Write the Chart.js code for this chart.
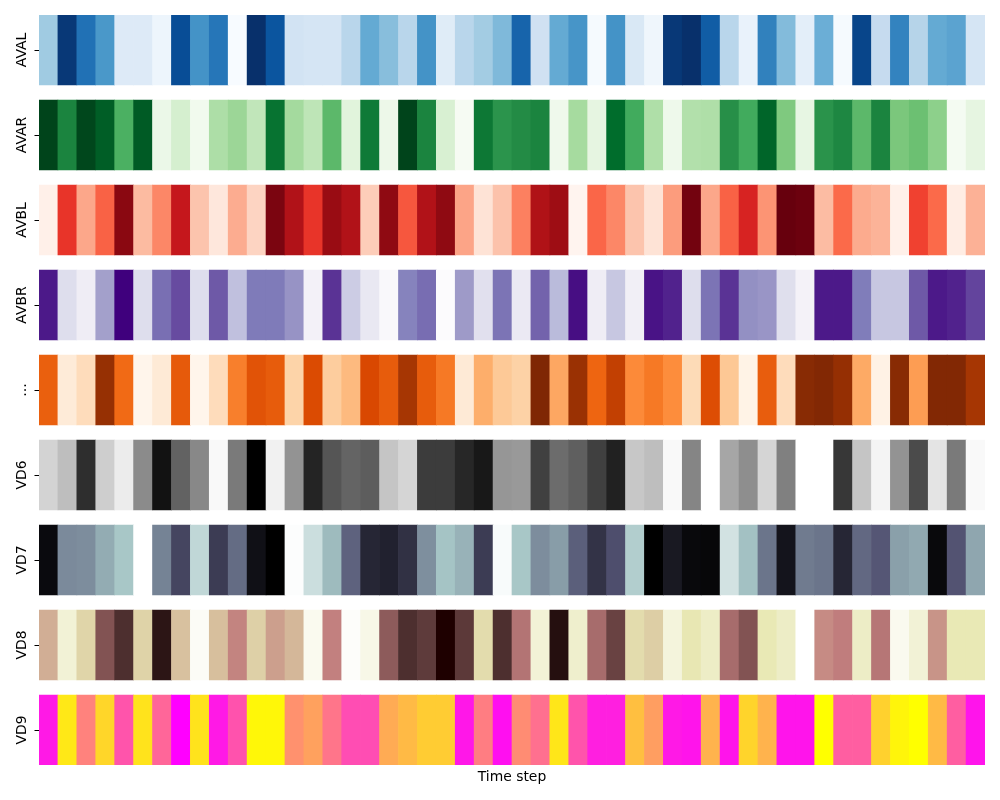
<!DOCTYPE html>
<html>
<head>
<meta charset="utf-8">
<script src="https://cdn.jsdelivr.net/npm/chart.js@4/dist/chart.umd.min.js"></script>
<style>
html,body{margin:0;padding:0;background:#fff;}
#wrap{width:1000px;height:800px;}
</style>
</head>
<body>
<div id="wrap"><canvas id="c" width="1000" height="800"></canvas></div>
<script>
// ---- data ----
const timeSteps = [0,1,2,3,4,5,6,7,8,9,10,11,12,13,14,15,16,17,18,19,20,21,22,23,24,25,26,27,28,29,30,31,32,33,34,35,36,37,38,39,40,41,42,43,44,45,46,47,48,49];
const rowNames = ['AVAL','AVAR','AVBL','AVBR','...','VD6','VD7','VD8','VD9'];
const cmapNames = ['Blues','Greens','Reds','Purples','Oranges','Greys','bone_r','pink_r','spring_r'];

const AVAL = [0.37,0.97,0.75,0.6,0.13,0.13,0.05,0.89,0.62,0.73,0.0,1.0,0.86,0.19,0.17,0.17,0.29,
  0.52,0.43,0.29,0.62,0.12,0.29,0.36,0.45,0.8,0.2,0.52,0.61,0.01,0.62,0.15,0.04,0.97,
  1.0,0.83,0.29,0.07,0.69,0.44,0.1,0.5,0.01,0.92,0.25,0.68,0.3,0.52,0.55,0.17];
const AVAR = [1.0,0.78,0.99,0.92,0.6,0.93,0.08,0.19,0.04,0.335,0.39,0.27,0.85,0.365,0.28,0.56,0.14,
  0.82,0.07,1.0,0.78,0.18,0.01,0.83,0.715,0.75,0.78,0.055,0.36,0.12,0.875,0.625,0.33,0.06,
  0.32,0.33,0.735,0.625,0.9,0.47,0.11,0.72,0.767,0.56,0.78,0.48,0.52,0.43,0.02,0.12];
const AVBL = [0.03,0.65,0.31,0.52,0.93,0.25,0.41,0.77,0.22,0.085,0.295,0.165,0.96,0.835,0.65,0.9,0.835,
  0.19,0.92,0.55,0.835,0.92,0.32,0.11,0.225,0.43,0.84,0.89,0.005,0.51,0.41,0.22,0.11,0.345,
  0.976,0.31,0.52,0.71,0.37,1.0,0.99,0.245,0.5,0.3,0.275,0.03,0.61,0.5,0.05,0.28];
const AVBR = [0.92,0.226,0.125,0.48,1.0,0.226,0.665,0.767,0.226,0.727,0.36,0.63,0.63,0.53,0.085,0.84,0.31,
  0.16,0.03,0.6,0.67,0.0,0.5,0.21,0.65,0.15,0.7,0.383,0.955,0.125,0.33,0.11,0.94,0.89,
  0.226,0.65,0.84,0.545,0.52,0.22,0.08,0.92,0.92,0.625,0.33,0.33,0.727,0.92,0.89,0.79];
const ELLIPSIS_ROW = [0.66,0.08,0.18,0.925,0.62,0.0,0.09,0.68,0.0,0.18,0.55,0.71,0.675,0.23,0.74,0.26,0.33,
  0.75,0.675,0.875,0.675,0.57,0.09,0.375,0.275,0.24,1.0,0.4,0.915,0.64,0.806,0.51,0.57,0.5,
  0.19,0.73,0.28,0.02,0.67,0.18,0.97,0.99,0.93,0.39,0.025,0.97,0.44,0.99,0.99,0.875];
const VD6 = [0.277,0.37,0.85,0.3,0.146,0.54,0.94,0.69,0.55,0.053,0.6,1.0,0.12,0.51,0.88,0.74,0.68,
  0.71,0.34,0.27,0.81,0.81,0.87,0.92,0.5,0.49,0.8,0.65,0.7,0.8,0.89,0.33,0.37,0.053,
  0.56,0.0,0.45,0.53,0.27,0.58,0.0,0.0,0.825,0.34,0.09,0.51,0.77,0.19,0.6,0.05];
const VD7 = [0.955,0.45,0.44,0.34,0.25,0.0,0.475,0.69,0.18,0.73,0.55,0.93,1.0,0.01,0.15,0.29,0.58,
  0.83,0.85,0.78,0.435,0.26,0.32,0.73,0.02,0.25,0.44,0.39,0.59,0.77,0.65,0.22,1.0,0.89,
  0.96,0.97,0.13,0.27,0.52,0.91,0.5,0.52,0.83,0.56,0.62,0.38,0.35,0.96,0.63,0.36];
const VD8 = [0.49,0.15,0.34,0.84,0.95,0.35,0.99,0.42,0.035,0.43,0.62,0.36,0.54,0.46,0.06,0.63,0.02,
  0.09,0.81,0.95,0.92,1.0,0.925,0.31,0.95,0.69,0.15,0.995,0.18,0.73,0.9,0.31,0.37,0.13,
  0.26,0.2,0.73,0.84,0.25,0.2,0.0,0.6,0.64,0.2,0.68,0.06,0.15,0.575,0.25,0.25];
const VD9 = [0.9,0.09,0.49,0.16,0.67,0.11,0.6,1.0,0.11,0.9,0.68,0.03,0.03,0.43,0.37,0.54,0.7,
  0.7,0.33,0.27,0.2,0.2,0.91,0.51,0.94,0.45,0.56,0.1,0.67,0.88,0.88,0.25,0.38,0.9,
  0.92,0.3,0.92,0.17,0.3,0.92,0.92,0.0,0.63,0.63,0.18,0.04,0.0,0.27,0.63,0.92];

const rowValues = [AVAL, AVAR, AVBL, AVBR, ELLIPSIS_ROW, VD6, VD7, VD8, VD9];

// ---- colormaps (matplotlib equivalents) ----
const BREWER = {
  Blues:   ['#f7fbff','#deebf7','#c6dbef','#9ecae1','#6baed6','#4292c6','#2171b5','#08519c','#08306b'],
  Greens:  ['#f7fcf5','#e5f5e0','#c7e9c0','#a1d99b','#74c476','#41ab5d','#238b45','#006d2c','#00441b'],
  Reds:    ['#fff5f0','#fee0d2','#fcbba1','#fc9272','#fb6a4a','#ef3b2c','#cb181d','#a50f15','#67000d'],
  Purples: ['#fcfbfd','#efedf5','#dadaeb','#bcbddc','#9e9ac8','#807dba','#6a51a3','#54278f','#3f007d'],
  Oranges: ['#fff5eb','#fee6ce','#fdd0a2','#fdae6b','#fd8d3c','#f16913','#d94801','#a63603','#7f2704'],
  Greys:   ['#ffffff','#f0f0f0','#d9d9d9','#bdbdbd','#969696','#737373','#525252','#252525','#000000']
};
function hexToRgb(h){ return [parseInt(h.slice(1,3),16)/255, parseInt(h.slice(3,5),16)/255, parseInt(h.slice(5,7),16)/255]; }
function brewer(stops, t){
  const n = stops.length - 1;
  const p = Math.max(0, Math.min(1, t)) * n;
  const i = Math.min(n - 1, Math.floor(p));
  const f = p - i;
  const a = hexToRgb(stops[i]), b = hexToRgb(stops[i+1]);
  return [a[0]+(b[0]-a[0])*f, a[1]+(b[1]-a[1])*f, a[2]+(b[2]-a[2])*f];
}
function seg(x, pts){ // pts: [[x,y],...]
  for (let k = 0; k < pts.length - 1; k++) {
    const [x0,y0] = pts[k], [x1,y1] = pts[k+1];
    if (x <= x1) return y0 + (y1 - y0) * (x - x0) / (x1 - x0);
  }
  return pts[pts.length-1][1];
}
function bone(x){
  return [
    seg(x, [[0,0],[0.746032,0.652778],[1,1]]),
    seg(x, [[0,0],[0.365079,0.319444],[0.746032,0.777778],[1,1]]),
    seg(x, [[0,0],[0.365079,0.444444],[1,1]])
  ];
}
function hot(x){
  return [
    seg(x, [[0,0.0416],[0.365079,1],[1,1]]),
    seg(x, [[0,0],[0.365079,0],[0.746032,1],[1,1]]),
    seg(x, [[0,0],[0.746032,0],[1,1]])
  ];
}
function pink(x){
  const h = hot(x);
  return h.map(c => Math.min(1, Math.sqrt((2*x + c)/3)));
}
function spring(x){ return [1, x, 1 - x]; }
function cmap(name, v){
  v = Math.max(0, Math.min(1, v));
  let c;
  if (BREWER[name]) c = brewer(BREWER[name], v);
  else if (name === 'bone_r') c = bone(1 - v);
  else if (name === 'pink_r') c = pink(1 - v);
  else if (name === 'spring_r') c = spring(1 - v);
  else c = [0,0,0];
  return 'rgb(' + c.map(u => Math.round(u*255)).join(',') + ')';
}

// ---- chart ----
Chart.defaults.font.family = 'DejaVu Sans';
Chart.defaults.color = '#000';

const HALF = 35/85; // half strip height in row units

const datasets = rowNames.map((name, i) => ({
  label: name,
  data: rowValues[i].map(() => [i - HALF, i + HALF]),
  backgroundColor: rowValues[i].map(v => cmap(cmapNames[i], v)),
  borderWidth: 0,
  barPercentage: 1,
  categoryPercentage: 1,
  grouped: false
}));

const rowLabelPlugin = {
  id: 'rowLabels',
  afterDraw(chart){
    const ctx = chart.ctx, y = chart.scales.y;
    ctx.save();
    ctx.fillStyle = '#000';
    ctx.font = '13.9px "DejaVu Sans"';
    ctx.textAlign = 'center';
    ctx.textBaseline = 'alphabetic';
    rowNames.forEach((n, i) => {
      const py = y.getPixelForValue(i);
      ctx.save();
      ctx.translate(26, py);
      ctx.rotate(-Math.PI/2);
      ctx.fillText(n, 0, 0);
      ctx.restore();
    });
    ctx.restore();
  }
};

new Chart(document.getElementById('c'), {
  type: 'bar',
  data: { labels: timeSteps, datasets },
  options: {
    responsive: false,
    animation: false,
    events: [],
    layout: { padding: { left: 0, right: 15, top: 15, bottom: 10.3 } },
    plugins: { legend: { display: false }, tooltip: { enabled: false }, title: { display: false } },
    scales: {
      x: {
        type: 'category',
        offset: true,
        grid: { display: false, drawTicks: false },
        border: { display: false },
        ticks: { display: false },
        title: { display: true, text: 'Time step', color: '#000', font: { family: 'DejaVu Sans', size: 13.9 }, padding: { top: 4, bottom: 4 } }
      },
      y: {
        type: 'linear',
        reverse: true,
        bounds: 'data',
        min: -HALF,
        max: rowNames.length - 1 + HALF,
        grid: { display: true, drawOnChartArea: false, drawTicks: true, tickLength: 4.5, color: '#000', lineWidth: 1 },
        border: { display: false },
        ticks: { display: false },
        afterBuildTicks: s => { s.ticks = rowNames.map((_, i) => ({ value: i })); },
        afterFit: s => { s.width = 39; }
      }
    }
  },
  plugins: [rowLabelPlugin]
});
</script>
</body>
</html>
